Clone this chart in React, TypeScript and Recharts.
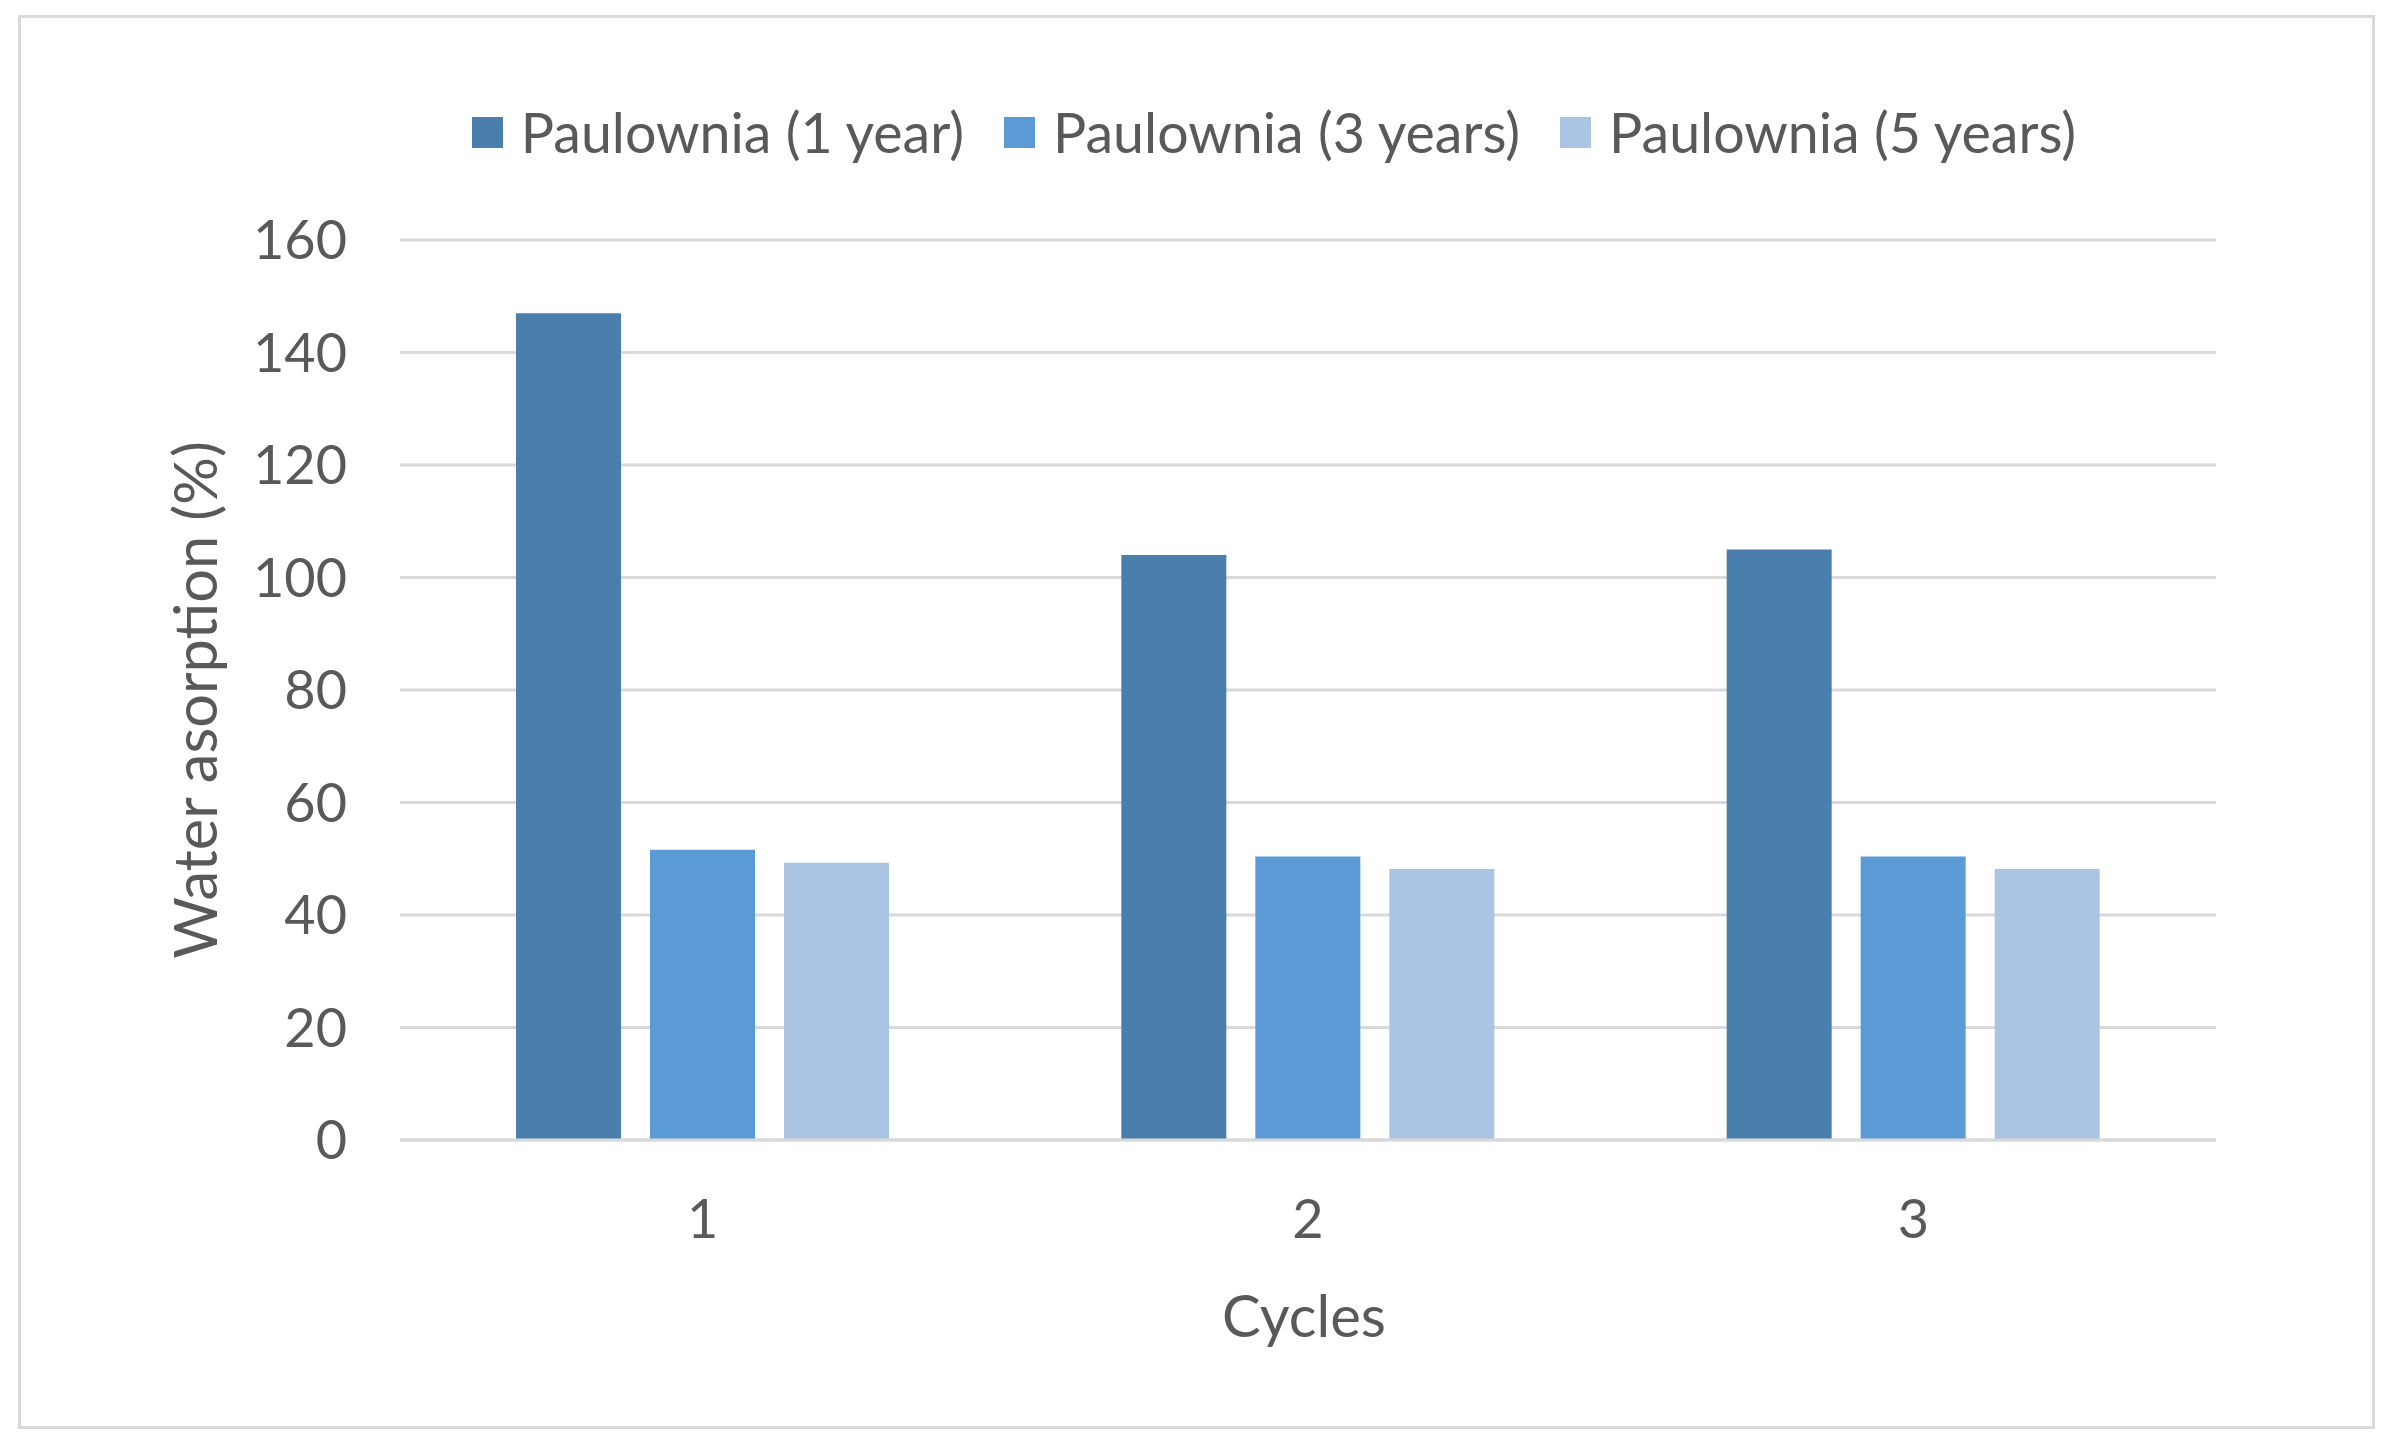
import React from "react";
import { BarChart, Bar, XAxis, YAxis, CartesianGrid, Legend } from "recharts";

const cycles = ["1", "2", "3"];
const oneYear = [147, 104, 105];
const threeYears = [51.6, 50.4, 50.4];
const fiveYears = [49.3, 48.2, 48.2];
const yTicks = [0, 20, 40, 60, 80, 100, 120, 140, 160];

const seriesNames = ["Paulownia (1 year)", "Paulownia (3 years)", "Paulownia (5 years)"];
const seriesColors = ["#4a7ead", "#5b9bd5", "#abc4e4"];

const data = cycles.map((c, i) => ({
  cycle: c,
  y1: oneYear[i],
  y3: threeYears[i],
  y5: fiveYears[i],
}));

const FONT = "Lato, 'Open Sans', sans-serif";
const TEXT = "#595959";

const renderLegend = (props: any) => {
  const { payload } = props;
  return (
    <div style={{ display: "flex", justifyContent: "center", alignItems: "center" }}>
      {payload.map((entry: any, i: number) => (
        <div
          key={entry.value}
          style={{
            display: "flex",
            alignItems: "center",
            marginRight: i < payload.length - 1 ? 40 : 0,
          }}
        >
          <span
            style={{
              display: "inline-block",
              width: 31,
              height: 31,
              background: entry.color,
              marginRight: 18,
            }}
          />
          <span style={{ fontFamily: FONT, fontSize: 55.5, color: TEXT, lineHeight: "64px" }}>
            {entry.value}
          </span>
        </div>
      ))}
    </div>
  );
};

const YTitle = (props: any) => {
  const vb = props.viewBox;
  const cx = vb.x - 26;
  const cy = vb.y + vb.height / 2 + 10;
  return (
    <text
      x={cx}
      y={cy}
      transform={`rotate(-90 ${cx} ${cy})`}
      textAnchor="middle"
      dominantBaseline="central"
      fill={TEXT}
      fontFamily={FONT}
      fontSize={59.5}
    >
      Water asorption (%)
    </text>
  );
};

const XTitle = (props: any) => {
  const vb = props.viewBox;
  const cx = vb.x + vb.width / 2 - 4;
  const cy = vb.y + 174;
  return (
    <text
      x={cx}
      y={cy}
      textAnchor="middle"
      dominantBaseline="central"
      fill={TEXT}
      fontFamily={FONT}
      fontSize={58}
    >
      Cycles
    </text>
  );
};

export default function App() {
  return (
    <div
      style={{
        position: "absolute",
        left: 0,
        top: 0,
        width: 2396,
        height: 1456,
        background: "#fff",
        overflow: "hidden",
      }}
    >
      <div
        style={{
          position: "absolute",
          left: 18,
          top: 15,
          width: 2357,
          height: 1414,
          border: "3px solid #d9d9d9",
          boxSizing: "border-box",
        }}
      />
      <div style={{ position: "absolute", left: 0, top: 0 }}>
        <BarChart
          width={2396}
          height={1456}
          data={data}
          margin={{ top: 240, right: 180, left: 220, bottom: 216 }}
          barSize={105}
          barGap={29}
        >
          <CartesianGrid vertical={false} stroke="#d9d9d9" strokeWidth={3} />
          <XAxis
            dataKey="cycle"
            height={100}
            axisLine={{ stroke: "#d9d9d9", strokeWidth: 3 }}
            tickLine={false}
            tickSize={0}
            tickMargin={60}
            tick={{ fill: TEXT, fontFamily: FONT, fontSize: 54 }}
            label={<XTitle />}
          />
          <YAxis
            width={180}
            domain={[0, 160]}
            ticks={yTicks}
            axisLine={false}
            tickLine={false}
            tickSize={0}
            tickMargin={53}
            tick={{ fill: TEXT, fontFamily: FONT, fontSize: 54 }}
            label={<YTitle />}
          />
          <Legend
            verticalAlign="middle"
            align="center"
            layout="horizontal"
            content={renderLegend}
            wrapperStyle={{ top: 100, left: 152, width: 2244 }}
          />
          <Bar dataKey="y1" name={seriesNames[0]} fill={seriesColors[0]} isAnimationActive={false} />
          <Bar dataKey="y3" name={seriesNames[1]} fill={seriesColors[1]} isAnimationActive={false} />
          <Bar dataKey="y5" name={seriesNames[2]} fill={seriesColors[2]} isAnimationActive={false} />
        </BarChart>
      </div>
    </div>
  );
}
